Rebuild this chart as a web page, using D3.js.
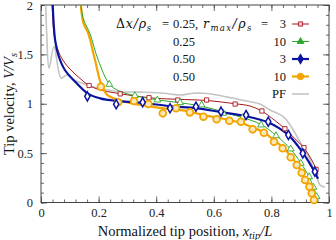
<!DOCTYPE html>
<html><head><meta charset="utf-8">
<script src="https://cdn.jsdelivr.net/npm/d3@7"></script>
<style>
body{margin:0;background:#fff;}
svg{display:block;font-family:"Liberation Serif","DejaVu Serif",serif;}
</style></head>
<body><svg id="c" width="336" height="240"></svg>
<script>
// ---- data ----
const xTickValues = [0, 0.2, 0.4, 0.6, 0.8, 1];
const xTickLabels = ["0", "0.2", "0.4", "0.6", "0.8", "1"];
const yTickValues = [0, 0.5, 1, 1.5, 2];
const yTickLabels = ["0", "0.5", "1", "1.5", "2"];

// dx=0.25, rmax=3 (red)
const redLine = [[0.038,2.05],[0.045,1.71],[0.055,1.58],[0.072,1.46],[0.101,1.35],[0.135,1.258],[0.164,1.19],[0.205,1.14],[0.257,1.11],[0.3,1.09],[0.35,1.07],[0.4,1.055],[0.475,1.045],[0.575,1.033],[0.674,1.0],[0.726,0.977],[0.767,0.925],[0.81,0.835],[0.847,0.747],[0.88,0.65],[0.913,0.555],[0.94,0.43],[0.955,0.34],[0.962,0.28]];
const redPts = [[0.167,1.185],[0.275,1.10],[0.375,1.061],[0.475,1.038],[0.575,1.038],[0.674,0.997],[0.767,0.927],[0.847,0.747],[0.913,0.555],[0.955,0.336]];

// dx=0.25, rmax=10 (green)
const greenLine = [[0.137,2.05],[0.147,1.86],[0.17,1.71],[0.199,1.44],[0.24,1.19],[0.28,1.12],[0.326,1.082],[0.404,1.04],[0.483,1.01],[0.54,0.985],[0.6,0.945],[0.65,0.9],[0.7,0.86],[0.764,0.79],[0.816,0.68],[0.867,0.54],[0.902,0.40],[0.931,0.26],[0.946,0.155],[0.957,0.06],[0.962,0.0]];
const greenPts = [[0.237,1.197],[0.326,1.082],[0.404,1.038],[0.483,1.011],[0.558,0.987],[0.633,0.903],[0.700,0.859],[0.764,0.785],[0.816,0.676],[0.867,0.542],[0.902,0.397],[0.931,0.261],[0.946,0.154],[0.957,0.059]];

// dx=0.50, rmax=3 (blue)
const blueLine = [[0.040,2.05],[0.049,1.645],[0.06,1.494],[0.083,1.342],[0.124,1.207],[0.164,1.1],[0.205,1.055],[0.257,1.03],[0.35,1.01],[0.45,0.975],[0.54,0.955],[0.625,0.915],[0.71,0.875],[0.79,0.81],[0.86,0.68],[0.91,0.50],[0.95,0.31],[0.962,0.24]];
const bluePts = [[0.161,1.075],[0.261,0.995],[0.353,1.015],[0.448,0.954],[0.538,0.970],[0.625,0.920],[0.712,0.886],[0.789,0.818],[0.859,0.684],[0.909,0.498],[0.951,0.312]];

// dx=0.50, rmax=10 (orange)
const orangeLine = [[0.137,2.05],[0.147,1.82],[0.164,1.713],[0.1875,1.443],[0.21,1.19],[0.23,1.09],[0.268,1.04],[0.32,1.0],[0.375,0.975],[0.42,0.955],[0.5,0.93],[0.564,0.885],[0.61,0.86],[0.654,0.835],[0.7,0.80],[0.735,0.76],[0.774,0.71],[0.809,0.63],[0.839,0.56],[0.867,0.47],[0.888,0.39],[0.905,0.31],[0.917,0.235],[0.932,0.16],[0.94,0.095],[0.948,0.03],[0.952,0.0]];
const orangePts = [[0.208,1.173],[0.268,1.015],[0.323,1.028],[0.373,0.997],[0.423,0.903],[0.469,0.954],[0.517,0.913],[0.564,0.869],[0.610,0.843],[0.654,0.828],[0.694,0.818],[0.735,0.741],[0.774,0.707],[0.809,0.616],[0.839,0.549],[0.867,0.458],[0.888,0.380],[0.905,0.302],[0.917,0.228],[0.932,0.160],[0.940,0.093],[0.948,0.025]];

// phase-field reference (gray)
const pfLine = [[0.016,2.05],[0.02,1.7],[0.028,1.36],[0.045,1.58],[0.07,1.26],[0.09,1.29],[0.115,1.24],[0.16,1.19],[0.2,1.157],[0.275,1.122],[0.345,1.118],[0.402,1.112],[0.448,1.099],[0.483,1.089],[0.529,1.106],[0.564,1.106],[0.61,1.089],[0.668,1.055],[0.726,1.021],[0.76,0.997],[0.795,0.937],[0.841,0.869],[0.865,0.785],[0.899,0.616],[0.934,0.43],[0.957,0.261],[0.969,0.177],[0.986,0.154]];

// ---- layout ----
const svg = d3.select("#c");
const L = 41, R = 329, T = 5, B = 202.5;
const x = d3.scaleLinear().domain([0,1]).range([L,R]);
const y = d3.scaleLinear().domain([0,2]).range([B,T]);
const frameCol = "#444";
const FS = "12.5px";

svg.append("defs").append("clipPath").attr("id","clip")
  .append("rect").attr("x",L).attr("y",T).attr("width",R-L).attr("height",B-T);

const xMinor = d3.range(0,1.0001,0.04);
const yMinor = d3.range(0,2.0001,0.1);

function styleAxis(g){
  g.select(".domain").remove();
  g.selectAll("line").attr("stroke",frameCol).attr("stroke-width",0.8);
  g.selectAll("text").attr("fill","#222").attr("font-size",FS).attr("font-family","Liberation Serif, serif");
}
// bottom
svg.append("g").attr("transform",`translate(0,${B})`)
  .call(d3.axisBottom(x).tickValues(xMinor).tickSize(-3).tickFormat("")).call(styleAxis);
svg.append("g").attr("transform",`translate(0,${B})`)
  .call(d3.axisBottom(x).tickValues(xTickValues).tickSize(-6).tickPadding(6).tickFormat((d,i)=>xTickLabels[i])).call(styleAxis);
// top
svg.append("g").attr("transform",`translate(0,${T})`)
  .call(d3.axisTop(x).tickValues(xMinor).tickSize(-3).tickFormat("")).call(styleAxis);
svg.append("g").attr("transform",`translate(0,${T})`)
  .call(d3.axisTop(x).tickValues(xTickValues).tickSize(-6).tickFormat("")).call(styleAxis);
// left
svg.append("g").attr("transform",`translate(${L},0)`)
  .call(d3.axisLeft(y).tickValues(yMinor).tickSize(-3).tickFormat("")).call(styleAxis);
svg.append("g").attr("transform",`translate(${L},0)`)
  .call(d3.axisLeft(y).tickValues(yTickValues).tickSize(-6).tickPadding(8).tickFormat((d,i)=>yTickLabels[i])).call(styleAxis);
// right
svg.append("g").attr("transform",`translate(${R},0)`)
  .call(d3.axisRight(y).tickValues(yMinor).tickSize(-3).tickFormat("")).call(styleAxis);
svg.append("g").attr("transform",`translate(${R},0)`)
  .call(d3.axisRight(y).tickValues(yTickValues).tickSize(-6).tickFormat("")).call(styleAxis);

svg.append("rect").attr("x",L).attr("y",T).attr("width",R-L).attr("height",B-T)
  .attr("fill","none").attr("stroke",frameCol).attr("stroke-width",1);

// ---- series ----
const C = {red:"#a8161c", green:"#2ca82c", blue:"#0a14a0", orange:"#f2a400", gray:"#c4c4c4"};
const line = d3.line().x(d=>x(d[0])).y(d=>y(d[1])).curve(d3.curveCatmullRom.alpha(0.5));
const plot = svg.append("g").attr("clip-path","url(#clip)");

plot.append("path").datum(pfLine).attr("d",line).attr("fill","none").attr("stroke",C.gray).attr("stroke-width",1.6);
plot.append("path").datum(redLine).attr("d",line).attr("fill","none").attr("stroke",C.red).attr("stroke-width",1);
plot.append("path").datum(orangeLine).attr("d",line).attr("fill","none").attr("stroke",C.orange).attr("stroke-width",2.2);
plot.append("path").datum(greenLine).attr("d",line).attr("fill","none").attr("stroke",C.green).attr("stroke-width",1);
plot.append("path").datum(blueLine).attr("d",line).attr("fill","none").attr("stroke",C.blue).attr("stroke-width",2.2);

const symSquare = d3.symbol().type(d3.symbolSquare).size(18);
const symTri = d3.symbol().type(d3.symbolTriangle).size(20);
const symDiamond = d3.symbol().type(d3.symbolDiamond).size(24);

function markers(pts, sym, col, sw, fill){
  svg.append("g").selectAll("path").data(pts).join("path")
    .attr("transform",d=>`translate(${x(d[0])},${y(d[1])})`)
    .attr("d",sym).attr("fill",fill).attr("stroke",col).attr("stroke-width",sw);
}
markers(redPts, symSquare, C.red, 0.9, "#fff");
markers(greenPts, symTri, C.green, 0.9, "#fff");
svg.append("g").selectAll("circle").data(orangePts).join("circle")
  .attr("cx",d=>x(d[0])).attr("cy",d=>y(d[1])).attr("r",3.4)
  .attr("fill","#fde9b8").attr("stroke",C.orange).attr("stroke-width",1.8);
markers(bluePts, symDiamond, C.blue, 1.5, "#fff");

// ---- legend ----
const lg = svg.append("g").attr("font-size",FS).attr("fill","#111");
const rowsY = [24, 41.5, 59, 76.5, 94];
const MATH = "DejaVu Serif, serif", MF = "12.5px", SUB = "8.5px";
const by = rowsY[0]+4;
let t = lg.append("text").attr("x",116).attr("y",by).attr("font-family",MATH).attr("font-size",MF).attr("letter-spacing","0.8px");
t.append("tspan").text("Δ");
t.append("tspan").attr("font-style","italic").text("x/ρ");
t.append("tspan").attr("font-style","italic").attr("font-size",SUB).attr("dy",2.5).text("s");
lg.append("text").attr("x",162).attr("y",by).text("=");
lg.append("text").attr("x",173).attr("y",by).text("0.25,");
t = lg.append("text").attr("x",203).attr("y",by).attr("font-family",MATH).attr("font-size",MF).attr("letter-spacing","1.4px");
t.append("tspan").attr("font-style","italic").text("r");
t.append("tspan").attr("font-style","italic").attr("font-size",SUB).attr("dy",2.5).text("max");
t.append("tspan").attr("dy",-2.5).attr("font-style","italic").text("/ρ");
t.append("tspan").attr("font-style","italic").attr("font-size",SUB).attr("dy",2.5).text("s");
lg.append("text").attr("x",261).attr("y",by).text("=");
lg.append("text").attr("x",286).attr("y",by).attr("text-anchor","end").text("3");

const dxLabels = ["0.25","0.50","0.50"];
const rLabels = ["10","3","10"];
dxLabels.forEach((s,i)=>{
  lg.append("text").attr("x",173).attr("y",rowsY[i+1]+4).text(s);
  lg.append("text").attr("x",286).attr("y",rowsY[i+1]+4).attr("text-anchor","end").text(rLabels[i]);
});
lg.append("text").attr("x",286).attr("y",rowsY[4]+4).attr("text-anchor","end").text("PF");

const legItems = [
  {c:C.red, w:1, sym:symSquare, fill:"#f3d0d0", sw:0.9},
  {c:C.green, w:1, sym:symTri, fill:C.green, sw:0.9},
  {c:C.blue, w:2.2, sym:symDiamond, fill:C.blue, sw:1.2},
  {c:C.orange, w:2.2, circle:true},
  {c:C.gray, w:1.6}
];
legItems.forEach((it,i)=>{
  const yy = rowsY[i];
  lg.append("line").attr("x1",292).attr("x2",309).attr("y1",yy).attr("y2",yy).attr("stroke",it.c).attr("stroke-width",it.w);
  if(it.circle){
    lg.append("circle").attr("cx",300.5).attr("cy",yy).attr("r",3.2).attr("fill",it.c).attr("stroke",it.c).attr("stroke-width",1);
  } else if(it.sym){
    lg.append("path").attr("transform",`translate(300.5,${yy})`).attr("d",it.sym).attr("fill",it.fill).attr("stroke",it.c).attr("stroke-width",it.sw);
  }
});

// ---- axis titles ----
const xt = svg.append("text").attr("x",185).attr("y",235.5).attr("text-anchor","middle").attr("font-size","14.5px").attr("fill","#111");
xt.append("tspan").text("Normalized tip position, ");
xt.append("tspan").attr("font-style","italic").text("x");
xt.append("tspan").attr("font-style","italic").attr("font-size","10.5px").attr("dy",3).text("tip");
xt.append("tspan").attr("font-style","italic").attr("dy",-3).text("/L");

const yt = svg.append("text").attr("transform","translate(14,104) rotate(-90)").attr("text-anchor","middle").attr("font-size","14.5px").attr("fill","#111");
yt.append("tspan").text("Tip velocity, ");
yt.append("tspan").attr("font-style","italic").text("V/V");
yt.append("tspan").attr("font-style","italic").attr("font-size","10.5px").attr("dy",3).text("s");
</script></body></html>
